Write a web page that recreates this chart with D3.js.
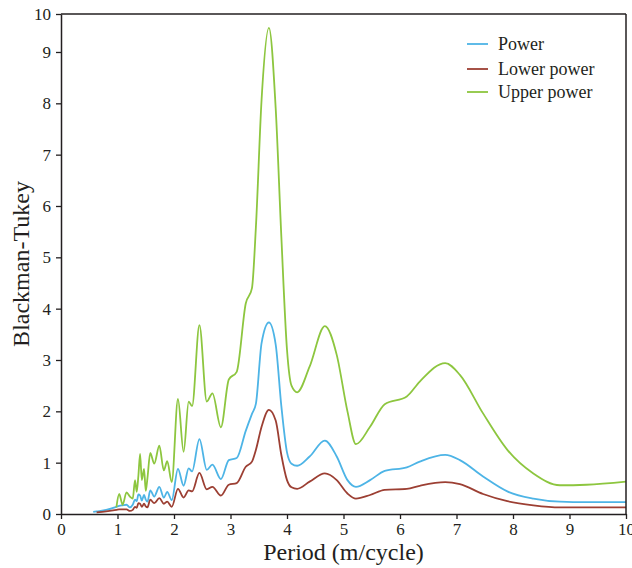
<!DOCTYPE html>
<html>
<head>
<meta charset="utf-8">
<script src="https://cdn.jsdelivr.net/npm/d3@7"></script>
<style>
  body { margin: 0; background: #fff; }
  svg { display: block; }
</style>
</head>
<body>
<div id="chart"></div>
<script>
// Period (m/cycle) sample positions shared by all series
const period = [0.57, 0.63, 0.80, 0.98, 1.03, 1.09, 1.16, 1.22, 1.27, 1.31, 1.34, 1.37, 1.40, 1.43, 1.47, 1.50,
  1.53, 1.58, 1.65, 1.74, 1.82, 1.88, 1.96, 2.07, 2.17, 2.26, 2.32, 2.45, 2.58, 2.68, 2.83, 2.97, 3.11,
  3.27, 3.38, 3.45, 3.55, 3.68, 3.80, 3.90, 4.00, 4.08, 4.18, 4.40, 4.67, 4.88, 5.07, 5.22, 5.47, 5.73,
  6.12, 6.35, 6.80, 7.06, 7.47, 7.90, 8.36, 8.83, 9.30, 10.0];

const power = [0.04, 0.05, 0.08, 0.14, 0.16, 0.17, 0.18, 0.13, 0.18, 0.28, 0.25, 0.38, 0.36, 0.26, 0.37, 0.28,
  0.24, 0.46, 0.34, 0.53, 0.32, 0.43, 0.27, 0.88, 0.55, 0.89, 0.83, 1.46, 0.86, 0.96, 0.68, 1.05, 1.09,
  1.62, 1.95, 2.15, 3.33, 3.73, 3.30, 2.10, 1.20, 0.98, 0.94, 1.12, 1.43, 1.12, 0.66, 0.53, 0.66, 0.84,
  0.91, 1.02, 1.15, 1.05, 0.73, 0.44, 0.30, 0.24, 0.23, 0.23];

const lowerPower = [null, 0.03, 0.05, 0.08, 0.09, 0.09, 0.09, 0.06, 0.08, 0.14, 0.12, 0.21, 0.20, 0.14, 0.20, 0.15,
  0.13, 0.28, 0.21, 0.31, 0.20, 0.24, 0.14, 0.49, 0.32, 0.46, 0.44, 0.80, 0.48, 0.53, 0.36, 0.57, 0.60,
  0.92, 1.02, 1.25, 1.70, 2.03, 1.82, 1.15, 0.66, 0.52, 0.49, 0.63, 0.79, 0.66, 0.40, 0.30, 0.37, 0.47,
  0.49, 0.55, 0.62, 0.58, 0.39, 0.25, 0.17, 0.13, 0.13, 0.13];

const upperPower = [null, null, null, 0.13, 0.39, 0.18, 0.42, 0.34, 0.30, 0.66, 0.43, 0.75, 1.17, 0.66, 0.88, 0.45,
  0.70, 1.19, 0.98, 1.33, 0.85, 1.03, 0.62, 2.24, 1.21, 2.19, 2.10, 3.68, 2.19, 2.35, 1.69, 2.62, 2.77,
  4.10, 4.40, 5.60, 8.07, 9.47, 7.90, 5.40, 3.20, 2.50, 2.37, 2.87, 3.66, 3.10, 2.00, 1.36, 1.70, 2.14,
  2.29, 2.58, 2.94, 2.71, 1.96, 1.25, 0.79, 0.56, 0.57, 0.63];

const seriesNames = ["Power", "Lower power", "Upper power"];
const seriesColors = ["#4db4e6", "#9c3f33", "#8dc63f"];

const xTickValues = [0, 1, 2, 3, 4, 5, 6, 7, 8, 9, 10];
const yMax = 9.74;
const yTickValues = [0, 1, 2, 3, 4, 5, 6, 7, 8, 9, yMax];
const yTickLabels = ["0", "1", "2", "3", "4", "5", "6", "7", "8", "9", "10"];

const width = 632, height = 568;
const margin = { top: 14, right: 6, bottom: 54, left: 61 };
const font = "'Liberation Serif', 'Times New Roman', serif";
const axisColor = "#231f20";

const svg = d3.select("#chart").append("svg")
  .attr("width", width)
  .attr("height", height);

const x = d3.scaleLinear().domain([0, 10]).range([margin.left, width - margin.right]);
const y = d3.scaleLinear().domain([0, yMax]).range([height - margin.bottom, margin.top]);

// Kurven
const allSeries = [power, lowerPower, upperPower];
allSeries.forEach((vals, i) => {
  const line = d3.line()
    .defined((d, j) => vals[j] !== null)
    .x((d, j) => x(period[j]))
    .y((d, j) => y(vals[j]))
    .curve(d3.curveMonotoneX);
  svg.append("path")
    .datum(vals)
    .attr("d", line)
    .attr("fill", "none")
    .attr("stroke", seriesColors[i])
    .attr("stroke-width", 1.8)
    .attr("stroke-linejoin", "round");
});

// Rahmen oben und rechts
svg.append("line")
  .attr("x1", x(0)).attr("x2", x(10))
  .attr("y1", y(yMax)).attr("y2", y(yMax))
  .attr("stroke", axisColor).attr("stroke-width", 1.5);
svg.append("line")
  .attr("x1", x(10)).attr("x2", x(10))
  .attr("y1", y(yMax)).attr("y2", y(0))
  .attr("stroke", axisColor).attr("stroke-width", 1.5);

// Achsen
const xAxis = svg.append("g")
  .attr("transform", `translate(0,${y(0)})`)
  .call(d3.axisBottom(x).tickValues(xTickValues).tickSize(5).tickSizeOuter(0).tickPadding(4).tickFormat(d3.format("d")));

const yAxis = svg.append("g")
  .attr("transform", `translate(${x(0)},0)`)
  .call(d3.axisLeft(y).tickValues(yTickValues).tickSize(5).tickSizeOuter(0).tickPadding(5)
    .tickFormat((d, i) => yTickLabels[i]));

[xAxis, yAxis].forEach(g => {
  g.select(".domain").attr("stroke", axisColor).attr("stroke-width", 1.5);
  g.selectAll(".tick line").attr("stroke", axisColor).attr("stroke-width", 1.3);
  g.selectAll(".tick text")
    .attr("fill", axisColor)
    .style("font-family", font)
    .style("font-size", "17px");
});

// Achsentitel
svg.append("text")
  .attr("x", (x(0) + x(10)) / 2)
  .attr("y", 560)
  .attr("text-anchor", "middle")
  .style("font-family", font)
  .style("font-size", "24px")
  .attr("fill", axisColor)
  .text("Period (m/cycle)");

svg.append("text")
  .attr("transform", `translate(29,${(y(0) + y(yMax)) / 2}) rotate(-90)`)
  .attr("text-anchor", "middle")
  .style("font-family", font)
  .style("font-size", "24px")
  .attr("fill", axisColor)
  .text("Blackman-Tukey");

// Legende
const legendY = [44, 69, 92];
seriesNames.forEach((name, i) => {
  svg.append("line")
    .attr("x1", 467).attr("x2", 488)
    .attr("y1", legendY[i]).attr("y2", legendY[i])
    .attr("stroke", seriesColors[i])
    .attr("stroke-width", 1.8);
  svg.append("text")
    .attr("x", 498)
    .attr("y", legendY[i] + 6)
    .style("font-family", font)
    .style("font-size", "18px")
    .attr("fill", axisColor)
    .text(name);
});
</script>
</body>
</html>
